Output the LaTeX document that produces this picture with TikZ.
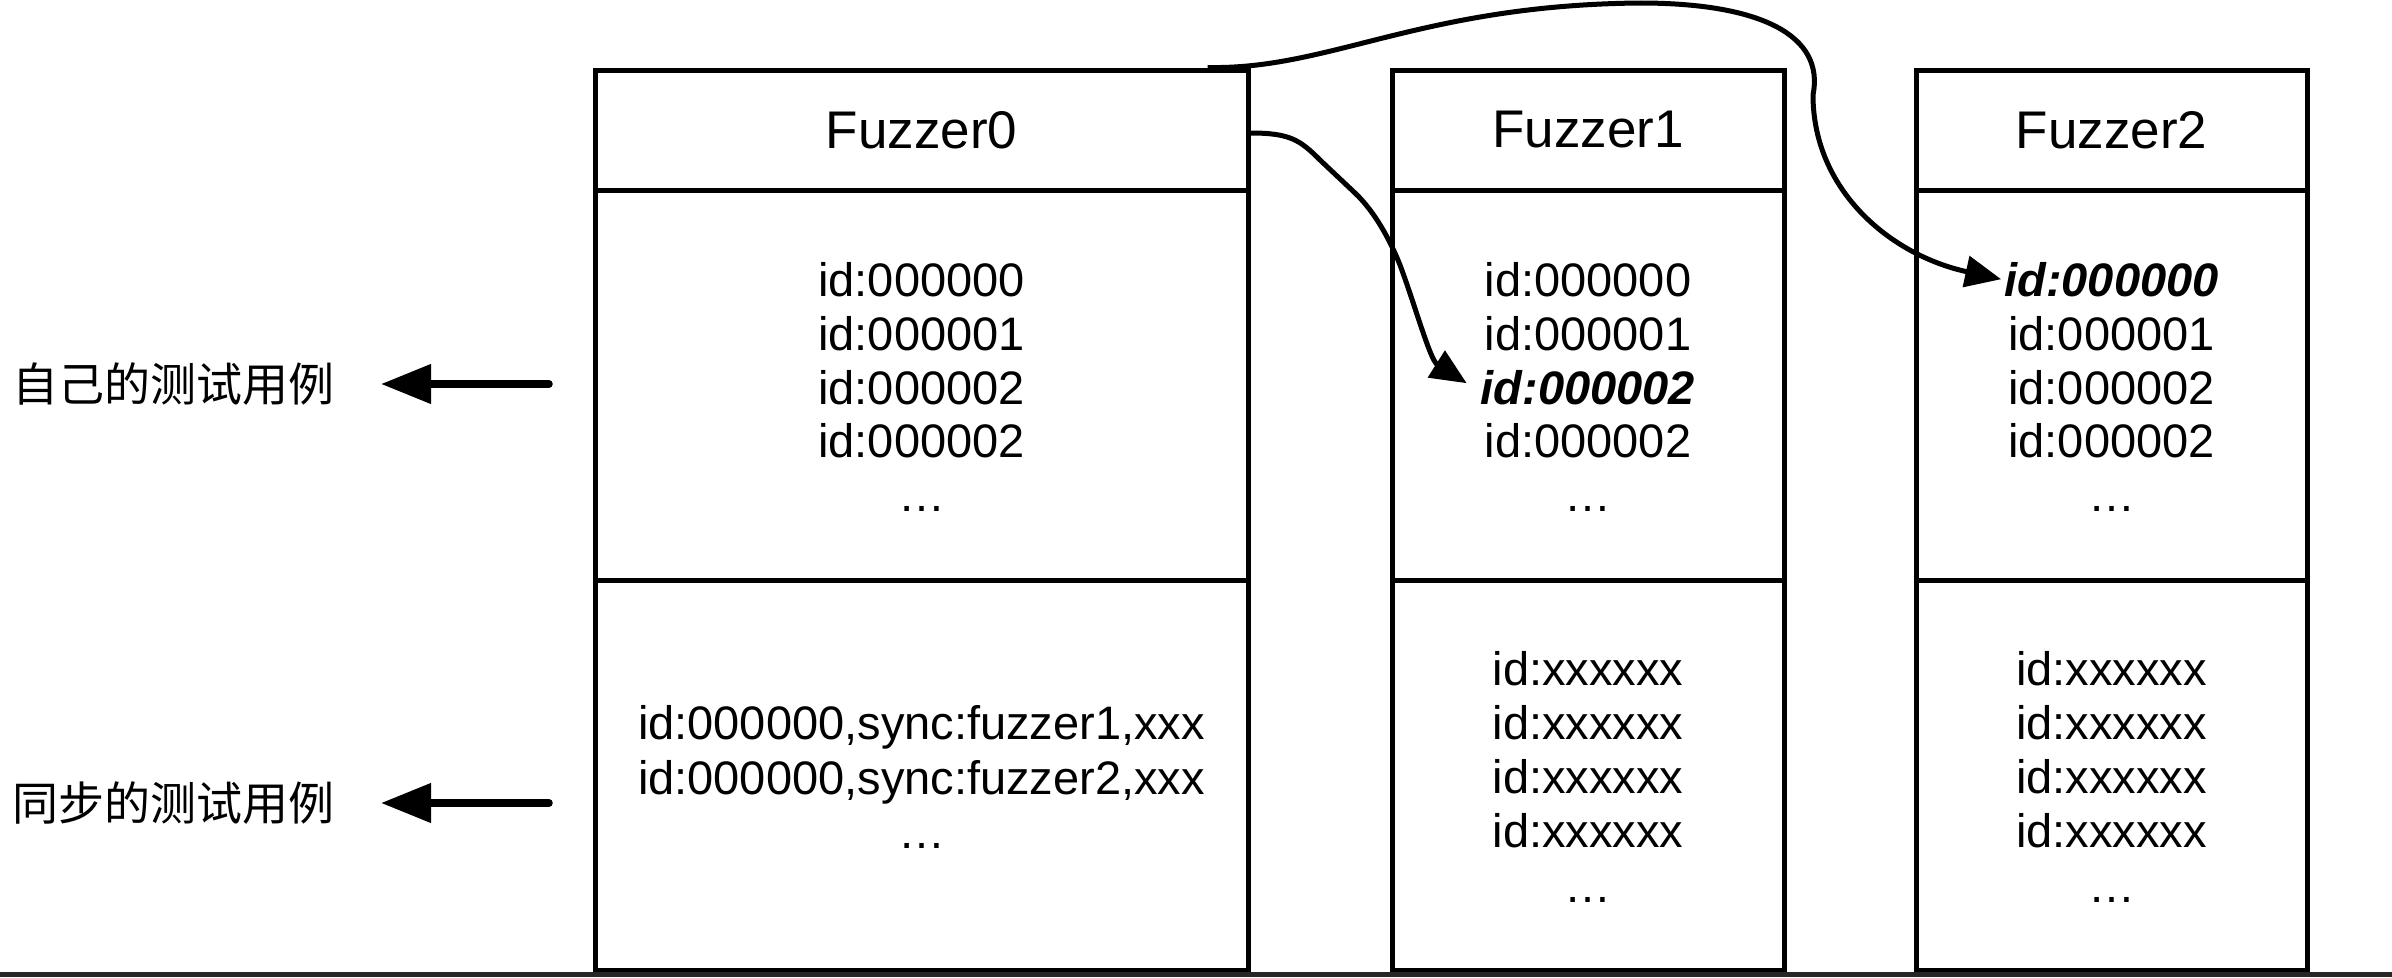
\documentclass[tikz,border=0pt]{standalone}
\usepackage{fontspec}
\setmainfont{Liberation Sans}
\newfontfamily\cjk{Noto Sans CJK SC}
\usetikzlibrary{arrows.meta}
\begin{document}
\begin{tikzpicture}[x=1pt,y=-1pt,
  sect/.style={draw=black, line width=5pt, rectangle, inner sep=0pt},
  hdr/.style={sect, font=\fontsize{53pt}{60pt}\selectfont},
  txt/.style={inner sep=0pt, anchor=base, font=\fontsize{47pt}{54pt}\selectfont},
  bxt/.style={inner sep=0pt, anchor=base, font=\fontsize{47pt}{54pt}\selectfont\bfseries\itshape},
  link/.style={line width=5pt, -{Triangle[length=36pt,width=31pt]}},
  side/.style={line width=7.5pt, line cap=round, -{Triangle[length=50pt,width=38pt]}},
  lab/.style={inner sep=0pt, anchor=west, font=\cjk\fontsize{46pt}{52pt}\selectfont}]
\useasboundingbox (0,0) rectangle (2392,977);
\fill[white] (0,0) rectangle (2392,977);

% Fuzzer0
\node[hdr, minimum width=653pt, minimum height=120pt] (f0h) at (921.5,130) {Fuzzer0};
\node[sect, minimum width=653pt, minimum height=390pt] (f0o) at (921.5,385) {};
\node[sect, minimum width=653pt, minimum height=390pt] (f0s) at (921.5,775) {};
% Fuzzer1
\node[hdr, minimum width=392pt, minimum height=120pt] (f1h) at (1588,130) {Fuzzer1};
\node[sect, minimum width=392pt, minimum height=390pt] (f1o) at (1588,385) {};
\node[sect, minimum width=392pt, minimum height=390pt] (f1s) at (1588,775) {};
% Fuzzer2
\node[hdr, minimum width=391pt, minimum height=120pt] (f2h) at (2111.5,130) {Fuzzer2};
\node[sect, minimum width=391pt, minimum height=390pt] (f2o) at (2111.5,385) {};
\node[sect, minimum width=391pt, minimum height=390pt] (f2s) at (2111.5,775) {};

% Fuzzer0 rows
\node[txt] (f0r1) at (921.5,296) {id:000000};
\node[txt] (f0r2) at (921.5,350) {id:000001};
\node[txt] (f0r3) at (921.5,404) {id:000002};
\node[txt] (f0r4) at (921.5,457) {id:000002};
\node[txt] (f0r5) at (921.5,511) {…};
\node[txt] (f0s1) at (921.5,739) {id:000000,sync:fuzzer1,xxx};
\node[txt] (f0s2) at (921.5,794) {id:000000,sync:fuzzer2,xxx};
\node[txt] (f0s3) at (921.5,848) {…};

% Fuzzer1 rows
\node[txt] (f1r1) at (1588,296) {id:000000};
\node[txt] (f1r2) at (1588,350) {id:000001};
\node[bxt] (f1r3) at (1588,404) {id:000002};
\node[txt] (f1r4) at (1588,457) {id:000002};
\node[txt] (f1r5) at (1588,511) {…};
\node[txt] (f1s1) at (1588,685) {id:xxxxxx};
\node[txt] (f1s2) at (1588,739) {id:xxxxxx};
\node[txt] (f1s3) at (1588,793) {id:xxxxxx};
\node[txt] (f1s4) at (1588,847) {id:xxxxxx};
\node[txt] (f1s5) at (1588,902) {…};

% Fuzzer2 rows
\node[bxt] (f2r1) at (2111.5,296) {id:000000};
\node[txt] (f2r2) at (2111.5,350) {id:000001};
\node[txt] (f2r3) at (2111.5,404) {id:000002};
\node[txt] (f2r4) at (2111.5,457) {id:000002};
\node[txt] (f2r5) at (2111.5,511) {…};
\node[txt] (f2s1) at (2111.5,685) {id:xxxxxx};
\node[txt] (f2s2) at (2111.5,739) {id:xxxxxx};
\node[txt] (f2s3) at (2111.5,793) {id:xxxxxx};
\node[txt] (f2s4) at (2111.5,847) {id:xxxxxx};
\node[txt] (f2s5) at (2111.5,902) {…};

% side labels
\node[lab] (ownlab) at (12,384) {自己的测试用例};
\node[lab] (synclab) at (12,803) {同步的测试用例};
\coordinate (a1t) at (549,384);
\coordinate (a1h) at (381,384);
\coordinate (a2t) at (549,803);
\coordinate (a2h) at (381,803);
\draw[side] (a1t) -- (a1h);
\draw[side] (a2t) -- (a2h);

% connectors
\draw[link] ([yshift=-3pt]f0h.east) .. controls (1290,133) and (1300,140) .. (1320,160)
  -- (1355,193) .. controls (1375,212) and (1390,240) .. (1400,265)
  .. controls (1415,305) and (1430,360) .. ([xshift=-14pt,yshift=4pt]f1r3.west);
\draw[link] ([xshift=-43pt]f0h.north east) .. controls (1330,70) and (1420,5) .. (1640,3)
  .. controls (1760,3) and (1825,35) .. (1813,95)
  .. controls (1813,190) and (1890,255) .. ([xshift=-3pt]f2r1.west);

% bottom band
\fill[black!85] (0,972) rectangle (2392,977);
\end{tikzpicture}
\end{document}
